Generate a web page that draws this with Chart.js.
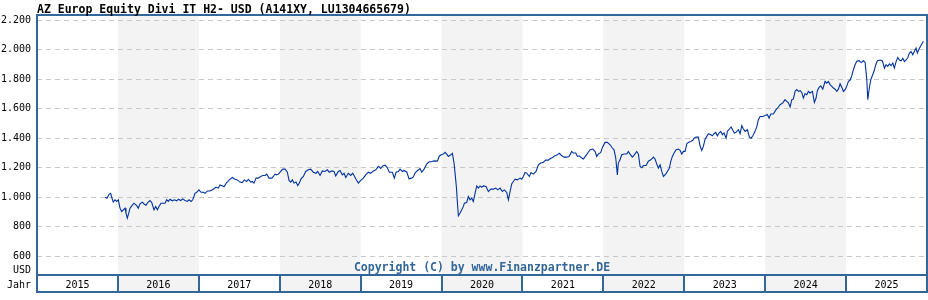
<!DOCTYPE html>
<html>
<head>
<meta charset="utf-8">
<script src="https://cdn.jsdelivr.net/npm/chart.js@4.4.1/dist/chart.umd.min.js"></script>
<style>
  html, body { margin: 0; padding: 0; background: #fff; }
  #chart { display: block; }
</style>
</head>
<body>
<canvas id="chart" width="928" height="300"></canvas>
<script>
const TITLE = 'AZ Europ Equity Divi IT H2- USD (A141XY, LU1304665679)';
const COPYRIGHT = 'Copyright (C) by www.Finanzpartner.DE';
const YEARS = [2015, 2016, 2017, 2018, 2019, 2020, 2021, 2022, 2023, 2024, 2025];
const Y_TICKS = [600, 800, 1000, 1200, 1400, 1600, 1800, 2000, 2200];

// decimal years
const dates = [
  2015.841, 2015.865, 2015.890, 2015.911, 2015.923, 2015.943, 2015.964, 2015.985, 2016.005, 2016.026,
  2016.047, 2016.067, 2016.088, 2016.100, 2016.116, 2016.134, 2016.150, 2016.171, 2016.199, 2016.232,
  2016.252, 2016.273, 2016.302, 2016.326, 2016.347, 2016.368, 2016.397, 2016.418, 2016.446, 2016.467,
  2016.487, 2016.508, 2016.533, 2016.561, 2016.582, 2016.603, 2016.623, 2016.644, 2016.672, 2016.697,
  2016.727, 2016.747, 2016.776, 2016.801, 2016.829, 2016.858, 2016.879, 2016.904, 2016.925, 2016.953,
  2016.974, 2017.002, 2017.027, 2017.056, 2017.077, 2017.105, 2017.138, 2017.179, 2017.213, 2017.241,
  2017.262, 2017.295, 2017.312, 2017.345, 2017.377, 2017.414, 2017.447, 2017.476, 2017.509, 2017.538,
  2017.562, 2017.592, 2017.612, 2017.642, 2017.661, 2017.682, 2017.707, 2017.735, 2017.765, 2017.790,
  2017.818, 2017.839, 2017.868, 2017.901, 2017.921, 2017.942, 2017.963, 2017.983, 2018.012, 2018.037,
  2018.066, 2018.094, 2018.115, 2018.136, 2018.156, 2018.177, 2018.202, 2018.223, 2018.242, 2018.263,
  2018.292, 2018.321, 2018.354, 2018.383, 2018.415, 2018.449, 2018.470, 2018.498, 2018.527, 2018.560,
  2018.588, 2018.613, 2018.643, 2018.671, 2018.692, 2018.724, 2018.745, 2018.774, 2018.795, 2018.816,
  2018.848, 2018.878, 2018.902, 2018.922, 2018.943, 2018.972, 2019.001, 2019.033, 2019.063, 2019.095,
  2019.125, 2019.157, 2019.187, 2019.219, 2019.248, 2019.273, 2019.302, 2019.330, 2019.355, 2019.392,
  2019.417, 2019.438, 2019.466, 2019.487, 2019.516, 2019.536, 2019.570, 2019.598, 2019.623, 2019.651,
  2019.672, 2019.701, 2019.734, 2019.755, 2019.784, 2019.817, 2019.846, 2019.879, 2019.911, 2019.948,
  2019.973, 2020.003, 2020.022, 2020.043, 2020.064, 2020.084, 2020.114, 2020.134, 2020.155, 2020.173,
  2020.185, 2020.195, 2020.208, 2020.229, 2020.250, 2020.270, 2020.282, 2020.311, 2020.331, 2020.352,
  2020.373, 2020.393, 2020.414, 2020.435, 2020.455, 2020.476, 2020.497, 2020.517, 2020.550, 2020.579,
  2020.608, 2020.640, 2020.670, 2020.695, 2020.723, 2020.752, 2020.776, 2020.806, 2020.826, 2020.847,
  2020.868, 2020.888, 2020.909, 2020.937, 2020.970, 2020.991, 2021.011, 2021.032, 2021.053, 2021.085,
  2021.106, 2021.135, 2021.168, 2021.197, 2021.226, 2021.258, 2021.288, 2021.320, 2021.350, 2021.374,
  2021.391, 2021.424, 2021.456, 2021.486, 2021.514, 2021.548, 2021.576, 2021.609, 2021.629, 2021.659,
  2021.679, 2021.703, 2021.733, 2021.753, 2021.782, 2021.807, 2021.836, 2021.869, 2021.897, 2021.918,
  2021.938, 2021.968, 2021.988, 2022.021, 2022.049, 2022.083, 2022.111, 2022.132, 2022.153, 2022.173,
  2022.185, 2022.206, 2022.227, 2022.256, 2022.289, 2022.309, 2022.330, 2022.358, 2022.383, 2022.413,
  2022.433, 2022.454, 2022.475, 2022.494, 2022.528, 2022.556, 2022.586, 2022.618, 2022.639, 2022.660,
  2022.680, 2022.701, 2022.722, 2022.742, 2022.771, 2022.791, 2022.816, 2022.833, 2022.853, 2022.874,
  2022.899, 2022.927, 2022.948, 2022.969, 2022.989, 2023.010, 2023.031, 2023.051, 2023.080, 2023.105,
  2023.121, 2023.146, 2023.174, 2023.195, 2023.216, 2023.236, 2023.257, 2023.278, 2023.298, 2023.328,
  2023.347, 2023.368, 2023.389, 2023.409, 2023.430, 2023.451, 2023.471, 2023.492, 2023.517, 2023.533,
  2023.558, 2023.579, 2023.600, 2023.619, 2023.640, 2023.669, 2023.690, 2023.711, 2023.731, 2023.752,
  2023.780, 2023.805, 2023.826, 2023.847, 2023.875, 2023.896, 2023.916, 2023.937, 2023.970, 2023.999,
  2024.027, 2024.048, 2024.069, 2024.101, 2024.135, 2024.163, 2024.184, 2024.218, 2024.246, 2024.267,
  2024.287, 2024.308, 2024.329, 2024.349, 2024.370, 2024.391, 2024.411, 2024.432, 2024.452, 2024.472,
  2024.493, 2024.514, 2024.534, 2024.555, 2024.584, 2024.608, 2024.629, 2024.645, 2024.666, 2024.687,
  2024.712, 2024.740, 2024.761, 2024.781, 2024.802, 2024.823, 2024.843, 2024.864, 2024.885, 2024.905,
  2024.926, 2024.947, 2024.967, 2024.988, 2025.009, 2025.029, 2025.050, 2025.070, 2025.090, 2025.111,
  2025.132, 2025.161, 2025.185, 2025.214, 2025.235, 2025.256, 2025.268, 2025.284, 2025.305, 2025.325,
  2025.346, 2025.367, 2025.387, 2025.420, 2025.449, 2025.474, 2025.494, 2025.515, 2025.535, 2025.556,
  2025.577, 2025.597, 2025.618, 2025.639, 2025.659, 2025.680, 2025.701, 2025.721, 2025.742, 2025.763,
  2025.782, 2025.803, 2025.824, 2025.844, 2025.865, 2025.881, 2025.902, 2025.923, 2025.943, 2025.956
];

// fund price in USD
const values = [
  1000, 993, 1020, 1027, 1000, 967, 983, 972, 983, 926,
  903, 914, 926, 892, 858, 892, 926, 942, 960, 943,
  926, 955, 967, 953, 946, 964, 978, 964, 915, 937,
  915, 937, 960, 960, 960, 983, 972, 987, 976, 983,
  976, 987, 978, 989, 978, 972, 983, 972, 983, 1027,
  1034, 1050, 1034, 1034, 1027, 1043, 1043, 1055, 1069, 1062,
  1084, 1077, 1072, 1100, 1118, 1134, 1122, 1118, 1103, 1100,
  1118, 1107, 1122, 1103, 1107, 1096, 1130, 1130, 1141, 1148,
  1148, 1157, 1130, 1130, 1141, 1157, 1152, 1157, 1175, 1191,
  1191, 1170, 1114, 1103, 1118, 1096, 1103, 1079, 1096, 1125,
  1141, 1175, 1186, 1191, 1170, 1163, 1175, 1148, 1179, 1175,
  1186, 1170, 1179, 1175, 1145, 1175, 1182, 1152, 1163, 1134,
  1163, 1148, 1163, 1145, 1122, 1096, 1114, 1130, 1152, 1170,
  1163, 1179, 1186, 1210, 1195, 1213, 1218, 1200, 1170, 1170,
  1130, 1170, 1175, 1191, 1175, 1182, 1172, 1125, 1128, 1138,
  1164, 1180, 1195, 1170, 1191, 1225, 1240, 1243, 1247, 1245,
  1280, 1290, 1293, 1305, 1292, 1277, 1288, 1298, 1230, 1130,
  1060, 971, 874, 893, 915, 938, 960, 965, 1005, 983,
  994, 971, 1027, 1077, 1062, 1077, 1068, 1077, 1073, 1039,
  1055, 1055, 1062, 1050, 1062, 1039, 1050, 1033, 983, 1039,
  1092, 1107, 1123, 1118, 1130, 1123, 1141, 1168, 1164, 1141,
  1168, 1157, 1175, 1220, 1232, 1238, 1252, 1252, 1265, 1270,
  1279, 1286, 1298, 1281, 1272, 1272, 1277, 1311, 1300, 1300,
  1277, 1281, 1266, 1259, 1281, 1300, 1322, 1327, 1311, 1277,
  1293, 1304, 1338, 1372, 1372, 1356, 1334, 1322, 1266, 1152,
  1232, 1254, 1288, 1293, 1293, 1311, 1293, 1272, 1288, 1311,
  1293, 1209, 1200, 1215, 1215, 1245, 1254, 1272, 1259, 1225,
  1198, 1220, 1175, 1141, 1157, 1175, 1198, 1243, 1277, 1300,
  1322, 1327, 1318, 1293, 1311, 1311, 1363, 1372, 1379, 1386,
  1401, 1408, 1408, 1349, 1318, 1345, 1394, 1413, 1431, 1424,
  1417, 1431, 1440, 1417, 1436, 1447, 1424, 1436, 1401, 1447,
  1463, 1477, 1454, 1436, 1440, 1458, 1431, 1485, 1463, 1447,
  1458, 1408, 1401, 1417, 1447, 1477, 1526, 1548, 1548, 1554,
  1561, 1537, 1565, 1565, 1594, 1612, 1628, 1640, 1662, 1651,
  1640, 1612, 1662, 1667, 1718, 1730, 1718, 1723, 1711, 1673,
  1703, 1696, 1718, 1707, 1718, 1643, 1673, 1723, 1745, 1755,
  1733, 1786, 1774, 1786, 1764, 1752, 1741, 1733, 1718, 1733,
  1770, 1746, 1718, 1730, 1755, 1786, 1795, 1824, 1865, 1899,
  1922, 1926, 1913, 1926, 1916, 1797, 1662, 1729, 1797, 1826,
  1856, 1899, 1926, 1931, 1924, 1876, 1899, 1888, 1904, 1892,
  1910, 1876, 1920, 1948, 1931, 1926, 1942, 1920, 1931, 1948,
  1978, 1988, 1966, 1988, 2012, 1978, 2005, 2028, 2046, 2057
];

const FRAME = '#336699';
const LINE = '#0033a0';
const SHADE = '#f3f3f3';
const MONO = "'DejaVu Sans Mono', 'Liberation Mono', monospace";

// year band below the plot, shading, frame and extra texts
const finanzLayout = {
  id: 'finanzLayout',
  beforeDraw(chart) {
    const { ctx, chartArea: a, scales: { x } } = chart;
    const bandBottom = a.bottom + 17;
    ctx.save();
    ctx.fillStyle = SHADE;
    YEARS.forEach((yr, i) => {
      if (i % 2 === 1) {
        const x0 = x.getPixelForValue(yr);
        const x1 = x.getPixelForValue(yr + 1);
        ctx.fillRect(x0, a.top, x1 - x0, bandBottom - a.top);
      }
    });
    ctx.restore();
  },
  afterDraw(chart) {
    const { ctx, chartArea: a, scales: { x } } = chart;
    const bandBottom = a.bottom + 17;
    ctx.save();
    ctx.strokeStyle = FRAME;
    ctx.lineWidth = 2;
    ctx.strokeRect(a.left, a.top, a.right - a.left, bandBottom - a.top);
    ctx.beginPath();
    ctx.moveTo(a.left, a.bottom);
    ctx.lineTo(a.right, a.bottom);
    YEARS.slice(1).forEach(yr => {
      const px = Math.round(x.getPixelForValue(yr));
      ctx.moveTo(px, a.bottom);
      ctx.lineTo(px, bandBottom);
    });
    ctx.stroke();

    ctx.fillStyle = '#000';
    ctx.font = 'bold 11.5px ' + MONO;
    ctx.textAlign = 'left';
    ctx.textBaseline = 'alphabetic';
    ctx.fillText(TITLE, a.left, 13);

    ctx.font = '10px ' + MONO;
    ctx.textAlign = 'right';
    ctx.fillText('USD', 31, 272.5);
    ctx.fillText('Jahr', 31, 287.5);

    ctx.fillStyle = FRAME;
    ctx.font = 'bold 11.5px ' + MONO;
    ctx.textAlign = 'center';
    ctx.fillText(COPYRIGHT, (a.left + a.right) / 2, 271);
    ctx.restore();
  }
};

new Chart(document.getElementById('chart').getContext('2d'), {
  type: 'line',
  data: {
    datasets: [{
      data: dates.map((d, i) => ({ x: d, y: values[i] })),
      borderColor: LINE,
      borderWidth: 1.1,
      pointRadius: 0,
      tension: 0,
      fill: false
    }]
  },
  options: {
    responsive: false,
    animation: false,
    devicePixelRatio: 1,
    layout: { padding: { top: 15, right: 1, left: 0, bottom: 0 } },
    plugins: { legend: { display: false }, tooltip: { enabled: false }, title: { display: false } },
    scales: {
      x: {
        type: 'linear',
        min: 2015,
        max: 2026,
        grid: { display: false, drawTicks: false },
        border: { display: false },
        afterBuildTicks: s => { s.ticks = YEARS.map(y => ({ value: y + 0.5 })); },
        afterFit: s => { s.height = 25; },
        ticks: {
          autoSkip: false,
          maxRotation: 0,
          padding: 4,
          color: '#000',
          font: { family: MONO, size: 10 },
          callback: v => String(Math.floor(v))
        }
      },
      y: {
        min: 473,
        max: 2236,
        grid: { color: '#c8c8c8', lineWidth: 1, drawTicks: false },
        border: { display: false, dash: [5, 4] },
        afterBuildTicks: s => { s.ticks = Y_TICKS.map(v => ({ value: v })); },
        afterFit: s => { s.width = 37; },
        ticks: {
          padding: 6,
          color: '#000',
          font: { family: MONO, size: 10 },
          callback: v => v.toLocaleString('de-DE')
        }
      }
    }
  },
  plugins: [finanzLayout]
});
</script>
</body>
</html>
